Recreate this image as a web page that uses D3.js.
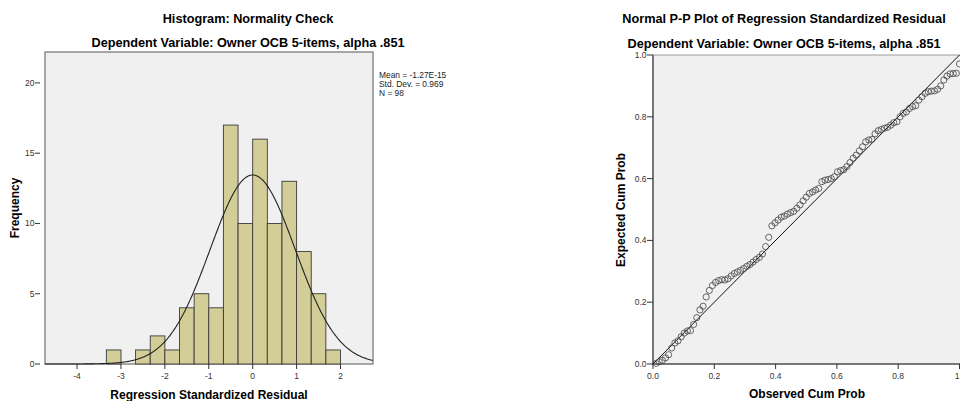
<!DOCTYPE html>
<html>
<head>
<meta charset="utf-8">
<title>Histogram and Normal P-P Plot</title>
<script src="https://d3js.org/d3.v7.min.js"></script>
<style>
  html, body { margin: 0; padding: 0; background: #fff; }
  svg { display: block; font-family: "Liberation Sans", Arial, sans-serif; }
  .title { font-size: 12.7px; font-weight: bold; fill: #000; }
  .axis-title { font-size: 12px; font-weight: bold; fill: #000; }
  .tick-label { font-size: 8.5px; fill: #333; }
  .legend { font-size: 8.4px; fill: #222; }
</style>
</head>
<body>
<svg width="960" height="401"></svg>
<script>
// histogram data (bin lower edges, width 1/3)
const binLower = [-3.333, -3.0, -2.667, -2.333, -2.0, -1.667, -1.333, -1.0, -0.667, -0.333,
                  0.0, 0.333, 0.667, 1.0, 1.333, 1.667];
const binCounts = [1, 0, 1, 2, 1, 4, 5, 4, 17, 10, 16, 10, 13, 8, 5, 1];
const binWidth = 1 / 3;
const histMean = -1.27e-15, histSd = 0.969, histN = 98;
const histXTicks = [-4, -3, -2, -1, 0, 1, 2];
const histYTicks = [0, 5, 10, 15, 20];
const legendLines = ["Mean = -1.27E-15", "Std. Dev. = 0.969", "N = 98"];

// P-P plot data
const observedCum = [
  .0102, .0204, .0306, .0408, .0510, .0612, .0714, .0816, .0918, .1020,
  .1122, .1224, .1327, .1429, .1531, .1633, .1735, .1837, .1939, .2041,
  .2143, .2245, .2347, .2449, .2551, .2653, .2755, .2857, .2959, .3061,
  .3163, .3265, .3367, .3469, .3571, .3673, .3776, .3878, .3980, .4082,
  .4184, .4286, .4388, .4490, .4592, .4694, .4796, .4898, .5000, .5102,
  .5204, .5306, .5408, .5510, .5612, .5714, .5816, .5918, .6020, .6122,
  .6224, .6327, .6429, .6531, .6633, .6735, .6837, .6939, .7041, .7143,
  .7245, .7347, .7449, .7551, .7653, .7755, .7857, .7959, .8061, .8163,
  .8265, .8367, .8469, .8571, .8673, .8776, .8878, .8980, .9082, .9184,
  .9286, .9388, .9490, .9592, .9694, .9796, .9898, 1.0000];
const expectedCum = [
  .002, .007, .012, .020, .030, .052, .068, .075, .088, .100,
  .107, .108, .128, .150, .175, .187, .217, .238, .254, .264,
  .270, .273, .272, .276, .285, .293, .298, .303, .309, .316,
  .322, .330, .338, .345, .356, .380, .410, .447, .457, .466,
  .475, .479, .485, .490, .494, .504, .515, .528, .540, .552,
  .557, .563, .568, .590, .595, .597, .600, .606, .622, .626,
  .629, .639, .652, .666, .676, .690, .703, .719, .725, .727,
  .745, .755, .759, .763, .766, .773, .781, .784, .800, .811,
  .816, .827, .833, .836, .854, .865, .876, .881, .883, .884,
  .889, .900, .919, .932, .939, .940, .941, .971];
const ppTicks = [0, 0.2, 0.4, 0.6, 0.8, 1];
const ppTickLabels = ["0.0", "0.2", "0.4", "0.6", "0.8", "1"];
const ppYTickLabels = ["0.0", "0.2", "0.4", "0.6", "0.8", "1.0"];

const svg = d3.select("svg");

// ---------- histogram ----------
const hx = d3.scaleLinear().domain([-4.73, 2.74]).range([45, 373]);
const hy = d3.scaleLinear().domain([0, 22.2]).range([364, 52]);
const hg = svg.append("g");

hg.append("text").attr("class", "title").attr("x", 248).attr("y", 23)
  .attr("text-anchor", "middle").text("Histogram: Normality Check");
hg.append("text").attr("class", "title").attr("x", 248).attr("y", 47)
  .attr("text-anchor", "middle").text("Dependent Variable: Owner OCB 5-items, alpha .851");

hg.append("rect").attr("x", hx.range()[0]).attr("y", hy.range()[1])
  .attr("width", hx.range()[1] - hx.range()[0]).attr("height", hy.range()[0] - hy.range()[1])
  .attr("fill", "#f0f0f0").attr("stroke", "#8c8c8c").attr("stroke-width", 1.5);

hg.selectAll("rect.bar").data(binLower.map((b, i) => ({ x0: b, n: binCounts[i] })).filter(d => d.n > 0))
  .join("rect").attr("class", "bar")
  .attr("x", d => hx(d.x0)).attr("width", d => hx(d.x0 + binWidth) - hx(d.x0))
  .attr("y", d => hy(d.n)).attr("height", d => hy(0) - hy(d.n))
  .attr("fill", "#d3ce98").attr("stroke", "#3a3a3a").attr("stroke-width", 0.9);

// fitted normal curve
const scaleFactor = histN * binWidth / (histSd * Math.sqrt(2 * Math.PI));
const curveX = d3.range(hx.domain()[0], hx.domain()[1] + 0.001, 0.02);
const line = d3.line().x(d => hx(d)).y(d => hy(scaleFactor * Math.exp(-0.5 * ((d - histMean) / histSd) ** 2)));
hg.append("path").datum(curveX).attr("d", line)
  .attr("fill", "none").attr("stroke", "#222").attr("stroke-width", 1.1);

// axes
hg.selectAll("line.ytick").data(histYTicks).join("line")
  .attr("x1", 35).attr("x2", 40).attr("y1", d => hy(d)).attr("y2", d => hy(d))
  .attr("stroke", "#333");
hg.selectAll("text.ytick").data(histYTicks).join("text").attr("class", "tick-label")
  .attr("x", 34.5).attr("y", d => hy(d) + 3).attr("text-anchor", "end").text(d => d);
hg.selectAll("line.xtick").data(histXTicks).join("line")
  .attr("x1", d => hx(d)).attr("x2", d => hx(d)).attr("y1", 364).attr("y2", 369)
  .attr("stroke", "#333");
hg.selectAll("text.xtick").data(histXTicks).join("text").attr("class", "tick-label")
  .attr("x", d => hx(d)).attr("y", 379).attr("text-anchor", "middle").text(d => d);

hg.append("text").attr("class", "axis-title").attr("x", 209).attr("y", 399)
  .attr("text-anchor", "middle").text("Regression Standardized Residual");
hg.append("text").attr("class", "axis-title")
  .attr("transform", "translate(19,208) rotate(-90)")
  .attr("text-anchor", "middle").text("Frequency");

hg.selectAll("text.legend").data(legendLines).join("text").attr("class", "legend")
  .attr("x", 379).attr("y", (d, i) => 77.5 + i * 9).text(d => d);

// ---------- P-P plot ----------
const px = d3.scaleLinear().domain([0, 1]).range([653, 959.5]);
const py = d3.scaleLinear().domain([0, 1]).range([364, 55]);
const pg = svg.append("g");

pg.append("text").attr("class", "title").attr("x", 784).attr("y", 23)
  .attr("text-anchor", "middle").text("Normal P-P Plot of Regression Standardized Residual");
pg.append("text").attr("class", "title").attr("x", 784).attr("y", 48)
  .attr("text-anchor", "middle").text("Dependent Variable: Owner OCB 5-items, alpha .851");

pg.append("rect").attr("x", 653).attr("y", 55).attr("width", 320).attr("height", 309)
  .attr("fill", "#f0f0f0").attr("stroke", "#999").attr("stroke-width", 1);
pg.append("line").attr("x1", 653).attr("x2", 653).attr("y1", 55).attr("y2", 365)
  .attr("stroke", "#777").attr("stroke-width", 2);
pg.append("line").attr("x1", 652).attr("x2", 960).attr("y1", 364).attr("y2", 364)
  .attr("stroke", "#777").attr("stroke-width", 2);

pg.append("line").attr("x1", px(0)).attr("y1", py(0)).attr("x2", px(1)).attr("y2", py(1))
  .attr("stroke", "#111").attr("stroke-width", 1);

pg.selectAll("circle").data(observedCum.map((o, i) => [o, expectedCum[i]]))
  .join("circle").attr("cx", d => px(d[0])).attr("cy", d => py(d[1])).attr("r", 3.1)
  .attr("fill", "none").attr("stroke", "#444").attr("stroke-width", 0.8);

pg.selectAll("line.ytick").data(ppTicks).join("line")
  .attr("x1", 647).attr("x2", 653).attr("y1", d => py(d)).attr("y2", d => py(d))
  .attr("stroke", "#333");
pg.selectAll("text.ytick").data(ppTicks).join("text").attr("class", "tick-label")
  .attr("x", 646.5).attr("y", d => py(d) + 3).attr("text-anchor", "end").text((d, i) => ppYTickLabels[i]);
pg.selectAll("line.xtick").data(ppTicks).join("line")
  .attr("x1", d => px(d)).attr("x2", d => px(d)).attr("y1", 364).attr("y2", 369)
  .attr("stroke", "#333");
// last label sits at the window edge, so anchor it to its right side
pg.selectAll("text.xtick").data(ppTicks).join("text").attr("class", "tick-label")
  .attr("x", d => d === 1 ? 959.5 : px(d)).attr("y", 379)
  .attr("text-anchor", d => d === 1 ? "end" : "middle").text((d, i) => ppTickLabels[i]);

pg.append("text").attr("class", "axis-title").attr("x", 807).attr("y", 398)
  .attr("text-anchor", "middle").text("Observed Cum Prob");
pg.append("text").attr("class", "axis-title")
  .attr("transform", "translate(625,210) rotate(-90)")
  .attr("text-anchor", "middle").text("Expected Cum Prob");
</script>
</body>
</html>
